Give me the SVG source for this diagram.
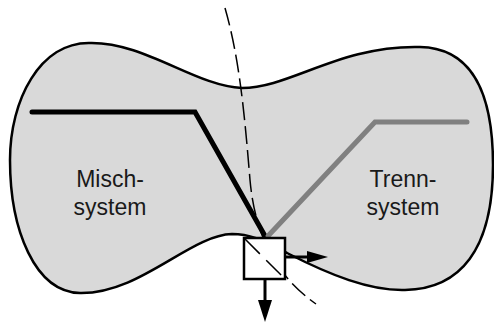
<svg xmlns="http://www.w3.org/2000/svg" width="494" height="322" viewBox="0 0 494 322">
  <defs>
    <style>
      .blob { fill: #d9d9d9; stroke: #000; stroke-width: 2.5; }
      .lbl { font-family: "Liberation Sans", Arial, sans-serif; font-size: 23px; fill: #1a1a1a; text-anchor: middle; }
      .thick { fill: none; stroke-width: 5; stroke-linejoin: miter; }
      .dash { fill: none; stroke: #000; stroke-width: 1.5; }
      .arr { stroke: #000; stroke-width: 3; fill: none; }
      .head { fill: #000; stroke: none; }
    </style>
  </defs>
  <rect width="494" height="322" fill="#fff"/>
  <g id="region">
    <path class="blob" d="M 242,88 C 195,86 145,42 90,43 C 40,42 10,100 10,160 C 10,230 35,292 80,293 C 140,294 190,235 232,234 C 255,234 270,245 287,253 C 330,275 370,291 405,290 C 460,289 493,250 493,165 C 493,90 470,48 420,47 C 340,45 290,88 242,88 Z"/>
  </g>
  <g id="labels">
    <text class="lbl" x="110" y="187">Misch-</text>
    <text class="lbl" x="110" y="215">system</text>
    <text class="lbl" x="403" y="187">Trenn-</text>
    <text class="lbl" x="403" y="215">system</text>
  </g>
  <g id="connectors">
    <path class="dash" stroke-dasharray="18 6" d="M 225,8 C 240,60 245,120 250,180 C 255,235 275,275 316,304"/>
    <polyline class="thick" stroke="#000" stroke-linecap="round" points="32,112 195,112 265,236"/>
    <polyline class="thick" stroke="#808080" stroke-linecap="round" points="268,236 375,122 467,122"/>
  </g>
  <g id="valve">
    <rect x="244" y="238" width="41" height="41" fill="#fff" stroke="#000" stroke-width="2.5"/>
    <line class="dash" stroke-width="2" stroke-dasharray="21 9" x1="245" y1="239" x2="284" y2="278"/>
  </g>
  <g id="outputs">
    <line class="arr" x1="286" y1="257" x2="310" y2="257"/>
    <polygon class="head" points="307,251 328,257 307,263"/>
    <line class="arr" x1="265" y1="280" x2="265" y2="303"/>
    <polygon class="head" points="258,300 272,300 265,322"/>
  </g>
</svg>
